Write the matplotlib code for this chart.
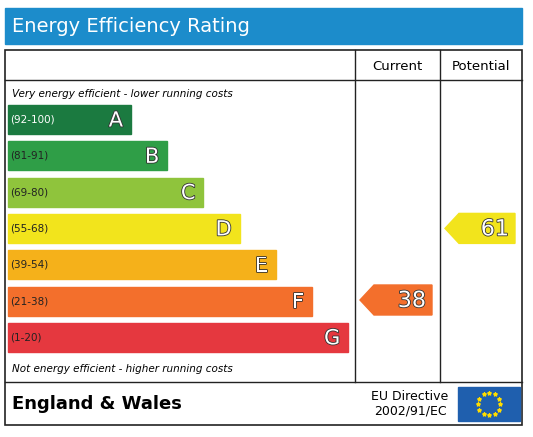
import matplotlib
matplotlib.use('Agg')
from matplotlib import pyplot as plt
from matplotlib.patches import Rectangle, Polygon
import matplotlib.patheffects as pe
import numpy as np

# Data
letters = ['A', 'B', 'C', 'D', 'E', 'F', 'G']
ranges = ['(92-100)', '(81-91)', '(69-80)', '(55-68)', '(39-54)', '(21-38)', '(1-20)']
band_colors = ['#1b7a40', '#2f9e47', '#8fc43c', '#f2e41c', '#f5b11a', '#f36f2c', '#e5383f']
current = 38
current_band = 5
potential = 61
potential_band = 3

W, H = 533, 437
fig = plt.figure(figsize=(W / 100, H / 100), dpi=100)
ax = fig.add_axes([0, 0, 1, 1])
ax.set_xlim(0, W)
ax.set_ylim(H, 0)
ax.axis('off')

# title bar
ax.add_patch(Rectangle((5, 8), 517, 36, color='#1c8ccb'))
ax.text(12, 27, 'Energy Efficiency Rating', color='white', fontsize=14,
        va='center', ha='left')

# frame
ax.add_patch(Rectangle((5, 50), 517, 375, fill=False, lw=1.2, ec='#222222'))
ax.plot([355, 355], [50, 382], color='#222222', lw=1)
ax.plot([440, 440], [50, 382], color='#222222', lw=1)
ax.plot([5, 522], [80, 80], color='#222222', lw=1)
ax.plot([5, 522], [382, 382], color='#222222', lw=1)
ax.text(397, 67, 'Current', fontsize=9.5, ha='center', va='center')
ax.text(481, 67, 'Potential', fontsize=9.5, ha='center', va='center')

ax.text(12, 94, 'Very energy efficient - lower running costs', fontsize=7.5,
        style='italic', va='center')
ax.text(12, 369, 'Not energy efficient - higher running costs', fontsize=7.5,
        style='italic', va='center')

stroke = [pe.withStroke(linewidth=1.2, foreground='#333333')]
top, step, hgt = 105, 36.3, 29
for i, (let, rng, col) in enumerate(zip(letters, ranges, band_colors)):
    y = top + i * step
    right = 131 + i * 36.2
    ax.add_patch(Rectangle((8, y), right - 8, hgt, color=col))
    ax.text(10, y + hgt / 2, rng, fontsize=7.5, va='center',
            color='white' if i == 0 else '#222222')
    ax.text(right - 8, y + hgt / 2 + 1, let, fontsize=15, ha='right',
            va='center', color='white', path_effects=stroke)


def arrow(x0, x1, yc, value, col):
    h = 15
    pts = [(x0, yc), (x0 + 14, yc - h), (x1, yc - h), (x1, yc + h), (x0 + 14, yc + h)]
    ax.add_patch(Polygon(pts, closed=True, color=col))
    ax.text(x1 - 6, yc + 1, str(value), fontsize=16, ha='right', va='center',
            color='white', path_effects=stroke)


arrow(360, 432, top + current_band * step + hgt / 2 - 1, current, band_colors[current_band])
arrow(445, 515, top + potential_band * step + hgt / 2, potential, band_colors[potential_band])

# footer
ax.text(12, 404, 'England & Wales', fontsize=13, fontweight='bold', va='center')
ax.text(410, 396, 'EU Directive', fontsize=9, ha='center', va='center')
ax.text(410, 411, '2002/91/EC', fontsize=9, ha='center', va='center')
ax.add_patch(Rectangle((458, 387), 62, 34, color='#1f5fae'))
ang = np.linspace(0, 2 * np.pi, 13)[:-1]
ax.scatter(489 + 11 * np.cos(ang), 404 + 11 * np.sin(ang), marker='*', s=7,
           color='#ffdd00', zorder=5)

fig.savefig('out.png', dpi=100)
